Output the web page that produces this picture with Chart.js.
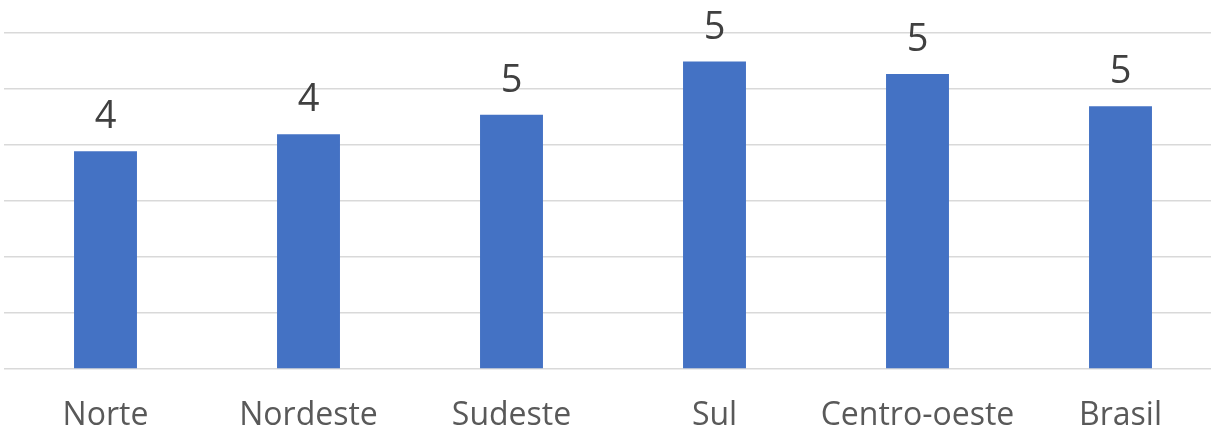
<!DOCTYPE html>
<html>
<head>
<meta charset="utf-8">
<script src="https://cdn.jsdelivr.net/npm/chart.js@4/dist/chart.umd.min.js"></script>
<style>
  html,body{margin:0;padding:0;background:#fff;overflow:hidden;}
  #wrap{width:1211px;height:436px;overflow:hidden;}
</style>
</head>
<body>
<div id="wrap"><canvas id="bar" width="1222" height="436"></canvas></div>
<script>
// data
const regioes = ["Norte", "Nordeste", "Sudeste", "Sul", "Centro-oeste", "Brasil"];
const valores = [3.89, 4.19, 4.54, 5.49, 5.27, 4.69];
const eixoMin = 0;
const eixoMax = 6;
const passo = 1;

// data labels on top of bars (rounded like the original)
const rotulos = {
  id: 'rotulos',
  afterDatasetsDraw(chart) {
    const ctx = chart.ctx;
    const meta = chart.getDatasetMeta(0);
    ctx.save();
    ctx.font = '38px "Open Sans"';
    ctx.fillStyle = '#404040';
    ctx.textAlign = 'center';
    ctx.textBaseline = 'alphabetic';
    meta.data.forEach(function(bar, i) {
      ctx.fillText(String(Math.round(valores[i])), bar.x, bar.y - 23);
    });
    ctx.restore();
  }
};

window.onload = function() {
  const ctx = document.getElementById('bar').getContext('2d');
  new Chart(ctx, {
    type: 'bar',
    data: {
      labels: regioes,
      datasets: [{
        data: valores,
        backgroundColor: '#4472C4',
        barPercentage: 0.31,
        categoryPercentage: 1
      }]
    },
    options: {
      responsive: false,
      animation: false,
      layout: {padding: {left: 4, top: 33, right: 0, bottom: 0}},
      plugins: {legend: {display: false}, tooltip: {enabled: false}},
      scales: {
        x: {
          grid: {display: false, drawTicks: false},
          border: {display: false},
          ticks: {color: '#595959', font: {family: 'Open Sans', size: 32}, padding: 28},
          afterFit: function(s) { s.height = 67; }
        },
        y: {
          min: eixoMin, max: eixoMax,
          ticks: {display: false, stepSize: passo},
          grid: {color: '#D9D9D9', lineWidth: 1.5, drawTicks: false},
          border: {display: false}
        }
      }
    },
    plugins: [rotulos]
  });
};
</script>
</body>
</html>
